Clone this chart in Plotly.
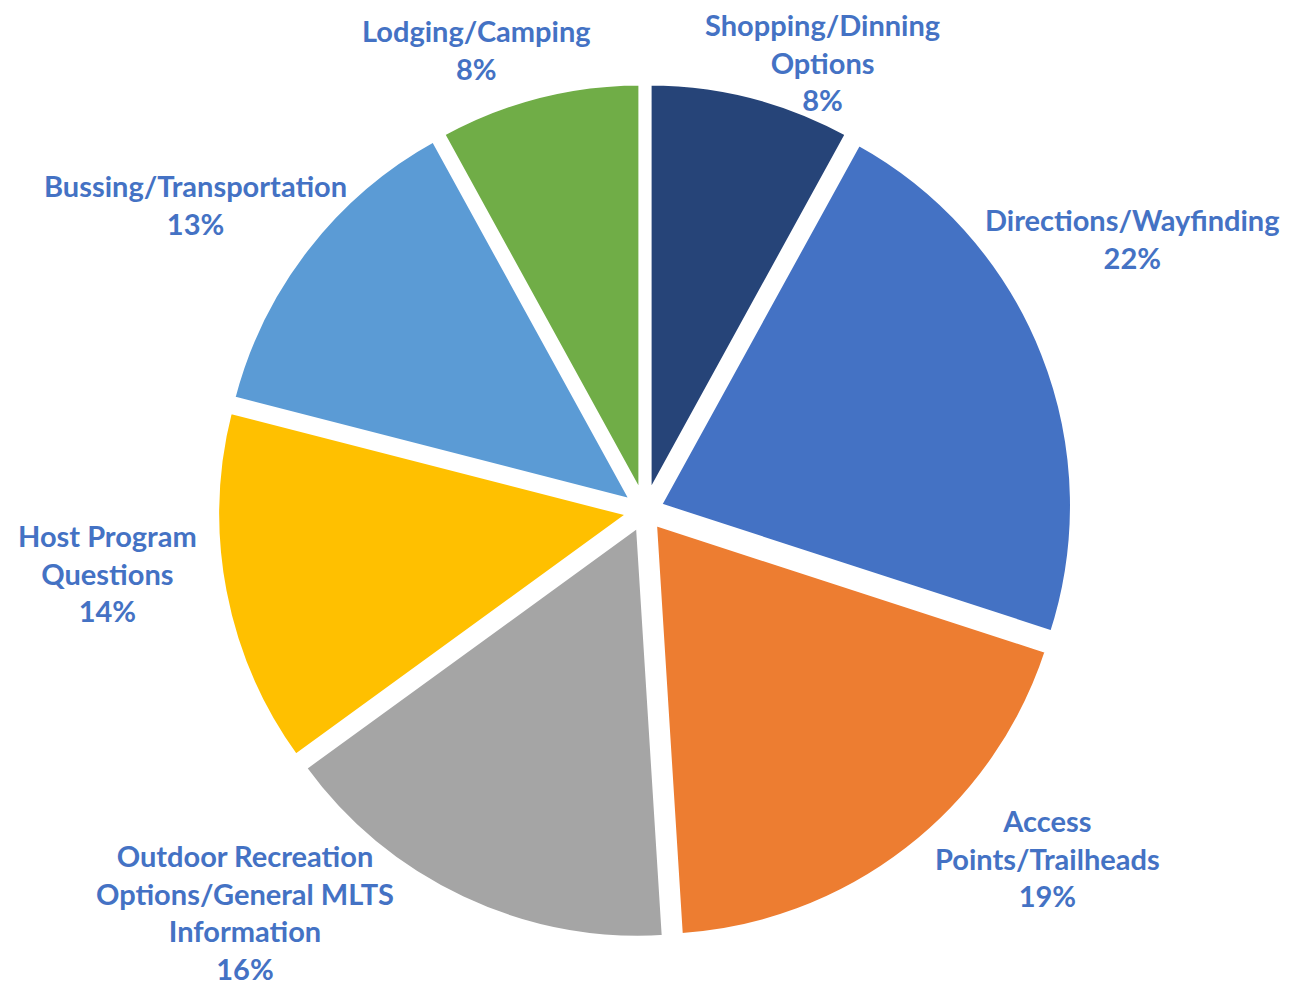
import plotly.graph_objects as go

# Data (clockwise from 12 o'clock)
categories = [
    "Shopping/Dinning<br>Options",
    "Directions/Wayfinding",
    "Access<br>Points/Trailheads",
    "Outdoor Recreation<br>Options/General MLTS<br>Information",
    "Host Program<br>Questions",
    "Bussing/Transportation",
    "Lodging/Camping",
]
percents = [8, 22, 19, 16, 14, 13, 8]
colors = ["#264478", "#4472C4", "#ED7D31", "#A5A5A5", "#FFC000", "#5B9BD5", "#70AD47"]

# label block centres in pixels (layout only)
label_pos = [(814, 54), (1124, 231), (1039, 850), (237, 904), (100, 565), (187, 196), (468, 41)]

W, H = 1289, 989

fig = go.Figure()

fig.add_trace(go.Pie(
    labels=categories,
    values=percents,
    sort=False,
    direction="clockwise",
    rotation=0,
    marker=dict(colors=colors, line=dict(color="white", width=6)),
    pull=[0.035] * len(percents),
    textinfo="none",
    hoverinfo="label+percent",
    showlegend=False,
    domain=dict(x=[205 / W, 1069 / W], y=[1 - 932 / H, 1 - 74 / H]),
))

for cat, pct, (px, py) in zip(categories, percents, label_pos):
    fig.add_annotation(
        x=px / W, y=1 - py / H, xref="paper", yref="paper",
        text=f"<b>{cat}<br>{pct}%</b>",
        showarrow=False, align="center",
        xanchor="center", yanchor="middle",
        font=dict(family="Lato", size=29, color="#4472C4"),
    )

fig.update_layout(
    width=W, height=H,
    margin=dict(l=0, r=0, t=0, b=0),
    paper_bgcolor="white",
    plot_bgcolor="white",
)

fig.write_html("out.html")
